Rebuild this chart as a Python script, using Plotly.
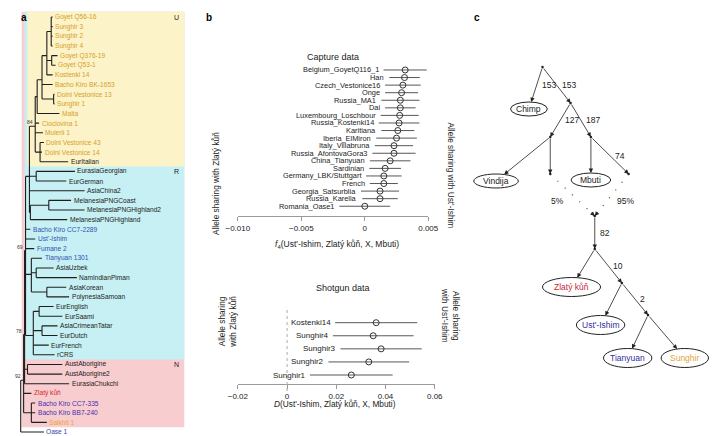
import math
import plotly.graph_objects as go

W, H = 720, 436
FONT = "Liberation Sans, Arial, Helvetica, sans-serif"
INK = "#222222"


def pxx(x):
    return x / W


def pyy(y):
    return 1 - y / H


# ======================= Panel a data =======================
# Tree: internal node = (support label, branch length, children); leaf = (name, branch length)
TREE = ("", 0, [
    ("92", 3, [
        ("78", 1, [
            ("69", 1, [
                ("", 4, [
                    ("84", 6, [
                        ("", 2, [
                            ("", 5, [
                                ("", 5, [
                                    ("", 4.5, [("Goyet Q56-16", 1.5), ("Sunghir 3", 1.5),
                                               ("Sunghir 2", 1.5), ("Sunghir 4", 1.5)]),
                                    ("", 5, [("Goyet Q376-19", 6), ("Goyet Q53-1", 4)]),
                                    ("Kostenki 14", 6),
                                ]),
                                ("Bacho Kiro BK-1653", 11),
                                ("", 12, [("Dolni Vestonice 13", 1), ("Sunghir 1", 1)]),
                            ]),
                            ("Malta", 23),
                        ]),
                        ("Cioclovina 1", 4),
                        ("Muierii 1", 8),
                        ("", 5, [("Dolni Vestonice 43", 4), ("Dolni Vestonice 14", 2),
                                 ("EurItalian", 29)]),
                    ]),
                    ("", 7, [("EurasiaGeorgian", 40), ("EurGerman", 31)]),
                    ("AsiaChina2", 57),
                    ("", 1, [
                        ("", 19, [("MelanesiaPNGCoast", 23), ("MelanesiaPNGHighland2", 37)]),
                        ("MelanesiaPNGHighland", 38),
                    ]),
                ]),
                ("Bacho Kiro CC7-2289", 5),
                ("Ust'-Ishim", 10),
                ("Fumane 2", 9),
                ("", 6, [
                    ("Tianyuan 1301", 11),
                    ("", 5, [("AsiaUzbek", 18), ("NamIndianPiman", 42)]),
                    ("", 16, [("AsiaKorean", 20), ("PolynesiaSamoan", 23)]),
                ]),
                ("", 8, [
                    ("", 6, [("EurEnglish", 15), ("EurSaami", 24)]),
                    ("", 9, [("AsiaCrimeanTatar", 16), ("EurDutch", 16)]),
                    ("EurFrench", 16),
                    ("rCRS", 22),
                ]),
            ]),
            ("", 3, [("AustAborigine", 36), ("AustAborigine2", 36)]),
            ("EurasiaChukchi", 46),
        ]),
        ("Zlatý kůň", 8),
        ("", 8, [("Bacho Kiro CC7-335", 4), ("Bacho Kiro BB7-240", 4), ("Salkhit 1", 16)]),
    ]),
    ("Oase 1", 24),
])

U_ORANGE = "#d6a02a"
ANCIENT_BLUE = "#3352b3"
LEAF_COLORS = {
    **{n: U_ORANGE for n in ["Goyet Q56-16", "Sunghir 3", "Sunghir 2", "Sunghir 4", "Goyet Q376-19",
                             "Goyet Q53-1", "Kostenki 14", "Bacho Kiro BK-1653", "Dolni Vestonice 13",
                             "Sunghir 1", "Malta", "Cioclovina 1", "Muierii 1", "Dolni Vestonice 43",
                             "Dolni Vestonice 14"]},
    **{n: ANCIENT_BLUE for n in ["Bacho Kiro CC7-2289", "Ust'-Ishim", "Fumane 2", "Tianyuan 1301"]},
    "Zlatý kůň": "#d22b2b",
    "Bacho Kiro CC7-335": "#4a2fae",
    "Bacho Kiro BB7-240": "#4a2fae",
    "Salkhit 1": "#f0a03a",
    "Oase 1": "#3545b5",
}

# haplogroup boxes: (letter, first leaf row, last leaf row, left x, colour)
HAPLO_BOXES = [
    ("N", 0, 42, 10, "#f7cdd0"),
    ("R", 0, 35, 13, "#c6f0f3"),
    ("U", 0, 15, 16, "#fcf3c8"),
]
HAPLO_LETTER_ROWS = {"U": 0, "R": 16, "N": 36}

ROOT_X = 9
ROW0_PX, ROW_STEP = 17.0, 9.651

# ======================= Panel b data =======================
cap_labels = ["Belgium_GoyetQ116_1", "Han", "Czech_Vestonice16", "Onge", "Russia_MA1", "Dai",
              "Luxembourg_Loschbour", "Russia_Kostenki14", "Karitiana", "Iberia_ElMiron",
              "Italy_Villabruna", "Russia_AfontovaGora3", "China_Tianyuan", "Sardinian",
              "Germany_LBK/Stuttgart", "French", "Georgia_Satsurblia", "Russia_Karelia",
              "Romania_Oase1"]
cap_vals = [0.00318, 0.00313, 0.0030, 0.0029, 0.0028, 0.0028, 0.00275, 0.0027, 0.0026, 0.0025,
            0.0023, 0.0023, 0.0020, 0.0016, 0.0015, 0.0015, 0.0012, 0.0012, 0.0000]
cap_errs = [0.0017, 0.0012, 0.0014, 0.0013, 0.0015, 0.0012, 0.0015, 0.0016, 0.0013, 0.0016,
            0.0015, 0.0017, 0.0016, 0.00125, 0.0014, 0.0011, 0.0015, 0.0014, 0.0020]
cap_ticks = [-0.010, -0.005, 0, 0.005]
cap_ticktext = ["\u22120.010", "\u22120.005", "0", "0.005"]

shot_labels = ["Kostenki14", "Sunghir4", "Sunghir3", "Sunghir2", "Sunghir1"]
shot_vals = [0.0362, 0.0350, 0.0382, 0.0332, 0.0261]
shot_errs = [0.0167, 0.0164, 0.0165, 0.0164, 0.0168]
shot_ticks = [-0.02, 0, 0.02, 0.04, 0.06]
shot_ticktext = ["\u22120.02", "0", "0.02", "0.04", "0.06"]

# ======================= Panel c data =======================
C_EDGES = [("root", "Chimp", "153"), ("root", "B", "153"), ("B", "C", "127"), ("B", "D", "187"),
           ("C", "Vindija", ""), ("C", "E", ""), ("D", "Mbuti", ""), ("D", "F", "74"),
           ("G", "H", "82"), ("H", "Zlatý kůň", ""), ("H", "I", "10"), ("I", "Ust'-Ishim", ""),
           ("I", "J", "2"), ("J", "Tianyuan", ""), ("J", "Sunghir", "")]
C_ADMIX = [("E", "G", "5%"), ("F", "G", "95%")]
C_LEAF_COLORS = {"Chimp": INK, "Vindija": INK, "Mbuti": INK, "Zlatý kůň": "#c8283a",
                 "Ust'-Ishim": "#33309e", "Tianyuan": "#33309e", "Sunghir": "#e0a63a"}

# layout of panel c (pixel positions / oval sizes)
C_POS = {"root": (548, 67), "B": (577, 103), "C": (556, 137), "D": (598, 137),
         "E": (556, 174), "F": (637, 174), "G": (602, 216), "H": (602, 249),
         "I": (630, 283), "J": (657, 315),
         "Chimp": (534, 109), "Vindija": (500, 181), "Mbuti": (598, 180),
         "Zlatý kůň": (578, 287), "Ust'-Ishim": (608, 325), "Tianyuan": (636, 358),
         "Sunghir": (695, 358)}
C_OVAL = {"Chimp": (38, 14), "Vindija": (46, 14), "Mbuti": (41, 14), "Zlatý kůň": (60, 19),
          "Ust'-Ishim": (50, 19), "Tianyuan": (50, 19), "Sunghir": (49, 19)}

# ======================= build =======================
fig = go.Figure()
annotations = []
shapes = []

# ---------- panel a: tree layout ----------
seg_x, seg_y = [], []
leaves, supports = [], []
counter = [0]


def layout(node, x0):
    if len(node) == 2:
        name, bl = node
        x = x0 + bl
        y = counter[0]
        counter[0] += 1
        leaves.append((name, x, y))
        seg_x.extend([x0, x, None])
        seg_y.extend([y, y, None])
        return y
    label, bl, kids = node
    x = x0 + bl
    ys = [layout(k, x) for k in kids]
    y = sum(ys) / len(ys)
    seg_x.extend([x, x, None])
    seg_y.extend([min(ys), max(ys), None])
    if bl:
        seg_x.extend([x0, x, None])
        seg_y.extend([y, y, None])
    if label:
        supports.append((label, x, y))
    return y


layout(TREE, ROOT_X)
y_top = -ROW0_PX / ROW_STEP
y_bot = (H - ROW0_PX) / ROW_STEP

for letter, r0, r1, x_left, col in HAPLO_BOXES:
    shapes.append(dict(type="rect", xref="x", yref="y", x0=x_left, x1=178,
                       y0=r0 - 0.55, y1=r1 + 0.5, fillcolor=col, line=dict(width=0), layer="below"))
    annotations.append(dict(x=170, y=HAPLO_LETTER_ROWS[letter], xref="x", yref="y", text=letter,
                            showarrow=False, xanchor="center", font=dict(size=7, color=INK)))

fig.add_trace(go.Scatter(x=seg_x, y=seg_y, mode="lines", xaxis="x", yaxis="y",
                         line=dict(color="#1e1e1e", width=1.1), hoverinfo="skip", showlegend=False))

for name, x, y in leaves:
    annotations.append(dict(x=x, y=y, xref="x", yref="y", text=name, showarrow=False,
                            xanchor="left", xshift=0.5,
                            font=dict(size=6.6, color=LEAF_COLORS.get(name, INK))))
for label, x, y in supports:
    annotations.append(dict(x=x, y=y, xref="x", yref="y", text=label, showarrow=False,
                            xanchor="right", yanchor="bottom", xshift=-0.5, yshift=-1,
                            font=dict(size=5, color="#333")))

# ---------- panel b ----------
marker = dict(symbol="circle-open", size=6, color="#333", line=dict(width=1, color="#333"))
fig.add_trace(go.Scatter(x=cap_vals, y=list(range(len(cap_vals))), mode="markers",
                         xaxis="x2", yaxis="y2", marker=marker, showlegend=False,
                         error_x=dict(type="data", array=cap_errs, thickness=0.9, width=0,
                                      color="#444")))
for i, (lab, v, e) in enumerate(zip(cap_labels, cap_vals, cap_errs)):
    annotations.append(dict(x=v - e, y=i, xref="x2", yref="y2", text=lab, showarrow=False,
                            xanchor="right", xshift=-3, font=dict(size=7.4, color=INK)))

fig.add_trace(go.Scatter(x=shot_vals, y=list(range(len(shot_vals))), mode="markers",
                         xaxis="x3", yaxis="y3", marker=marker, showlegend=False,
                         error_x=dict(type="data", array=shot_errs, thickness=0.9, width=0,
                                      color="#444")))
for i, (lab, v, e) in enumerate(zip(shot_labels, shot_vals, shot_errs)):
    annotations.append(dict(x=v - e, y=i, xref="x3", yref="y3", text=lab, showarrow=False,
                            xanchor="right", xshift=-2, font=dict(size=8, color=INK)))

shapes.append(dict(type="line", xref="x3", yref="paper", x0=0, x1=0, y0=pyy(391), y1=pyy(309),
                   line=dict(color="#aaaaaa", width=1, dash="dot")))

txt = dict(showarrow=False, xref="paper", yref="paper")
annotations += [
    dict(x=pxx(332), y=pyy(50), text="Capture data", font=dict(size=9, color=INK), **txt),
    dict(x=pxx(342), y=pyy(295), text="Shotgun data", font=dict(size=9, color=INK), **txt),
    dict(x=pxx(336), y=pyy(244), text="<i>f</i><sub>4</sub>(Ust'-Ishim, Zlatý kůň, X, Mbuti)",
         font=dict(size=8.5, color=INK), **txt),
    dict(x=pxx(334), y=pyy(411), text="<i>D</i>(Ust'-Ishim, Zlatý kůň, X, Mbuti)",
         font=dict(size=8.3, color=INK), **txt),
    dict(x=pxx(203), y=pyy(130), text="Allele sharing with Zlatý kůň", textangle=-90,
         font=dict(size=8.3, color=INK), **txt),
    dict(x=pxx(453), y=pyy(120), text="Allele sharing with Ust'-Ishim", textangle=90,
         font=dict(size=8.3, color=INK), **txt),
    dict(x=pxx(209), y=pyy(350), text="Allele sharing<br>with Zlatý kůň", textangle=-90,
         font=dict(size=8.3, color=INK), **txt),
    dict(x=pxx(453), y=pyy(345), text="Allele sharing<br>with Ust'-Ishim", textangle=90,
         font=dict(size=8.3, color=INK), **txt),
    dict(x=pxx(7), y=pyy(10), text="<b>a</b>", font=dict(size=10, color="#000"), **txt),
    dict(x=pxx(198), y=pyy(10), text="<b>b</b>", font=dict(size=10, color="#000"), **txt),
    dict(x=pxx(480), y=pyy(10), text="<b>c</b>", font=dict(size=10, color="#000"), **txt),
]

# ---------- panel c ----------
def edge_end(src, dst):
    sx, sy = C_POS[src]
    tx, ty = C_POS[dst]
    if dst in C_OVAL:
        a, b = C_OVAL[dst][0] / 2, C_OVAL[dst][1] / 2
        vx, vy = sx - tx, sy - ty
        s = 1 / math.sqrt((vx / a) ** 2 + (vy / b) ** 2)
        return tx + vx * s, ty + vy * s
    return tx, ty


for name, (w, h) in C_OVAL.items():
    cx, cy = C_POS[name]
    shapes.append(dict(type="circle", xref="x4", yref="y4", x0=cx - w / 2, x1=cx + w / 2,
                       y0=cy - h / 2, y1=cy + h / 2, line=dict(color=INK, width=1),
                       fillcolor="white"))
    annotations.append(dict(x=cx, y=cy, xref="x4", yref="y4", text=name, showarrow=False,
                            font=dict(size=8.5, color=C_LEAF_COLORS[name])))

for src, dst, lab in C_EDGES:
    sx, sy = C_POS[src]
    ex, ey = edge_end(src, dst)
    annotations.append(dict(x=ex, y=ey, ax=sx, ay=sy, xref="x4", yref="y4", axref="x4",
                            ayref="y4", text="", showarrow=True, arrowhead=2, arrowsize=1.1,
                            arrowwidth=0.8, arrowcolor=INK, standoff=0))
    if lab:
        annotations.append(dict(x=(sx + ex) / 2, y=(sy + ey) / 2, xref="x4", yref="y4",
                                text=lab, showarrow=False, xanchor="left", xshift=3,
                                font=dict(size=8.5, color=INK)))

for src, dst, lab in C_ADMIX:
    sx, sy = C_POS[src]
    tx, ty = C_POS[dst]
    fig.add_trace(go.Scatter(x=[sx, tx], y=[sy, ty], mode="lines", xaxis="x4", yaxis="y4",
                             line=dict(color="#555", width=1.3, dash="1px,9px"),
                             hoverinfo="skip", showlegend=False))
    L = math.hypot(tx - sx, ty - sy)
    annotations.append(dict(x=tx, y=ty, ax=tx - (tx - sx) / L * 7, ay=ty - (ty - sy) / L * 7,
                            xref="x4", yref="y4", axref="x4", ayref="y4", text="",
                            showarrow=True, arrowhead=2, arrowsize=1.1, arrowwidth=0.8,
                            arrowcolor=INK, standoff=0))
    left = sx < tx
    annotations.append(dict(x=(sx + tx) / 2, y=(sy + ty) / 2, xref="x4", yref="y4", text=lab,
                            showarrow=False, xanchor="right" if left else "left",
                            xshift=-7 if left else 3, yshift=-6,
                            font=dict(size=8.5, color=INK)))

dot_nodes = [n for n in C_POS if n not in C_OVAL]
fig.add_trace(go.Scatter(x=[C_POS[n][0] for n in dot_nodes], y=[C_POS[n][1] for n in dot_nodes],
                         mode="markers", xaxis="x4", yaxis="y4",
                         marker=dict(size=2.5, color=INK), hoverinfo="skip", showlegend=False))

# ---------- axes ----------
hidden = dict(visible=False, showgrid=False, zeroline=False)
data_axis = dict(showline=True, linecolor="#9a9a9a", linewidth=1, ticks="outside", ticklen=4,
                 tickcolor="#9a9a9a", tickwidth=1, showgrid=False, zeroline=False,
                 tickfont=dict(size=8, color=INK))

fig.update_layout(
    width=W, height=H, margin=dict(l=0, r=0, t=0, b=0),
    paper_bgcolor="white", plot_bgcolor="rgba(0,0,0,0)",
    font=dict(family=FONT, color=INK),
    showlegend=False,
    xaxis=dict(domain=[0, 180 / W], range=[0, 180], **hidden),
    yaxis=dict(domain=[0, 1], range=[y_bot, y_top], **hidden),
    xaxis2=dict(domain=[233.3 / W, 430 / W], range=[-0.010, 0.005], anchor="y2",
                tickvals=cap_ticks, ticktext=cap_ticktext, **data_axis),
    yaxis2=dict(domain=[pyy(216), pyy(64)], range=[19.29, -0.79], anchor="x2", **hidden),
    xaxis3=dict(domain=[233.3 / W, 436.7 / W], range=[-0.02, 0.06], anchor="y3",
                tickvals=shot_ticks, ticktext=shot_ticktext, **data_axis),
    yaxis3=dict(domain=[pyy(384.3), pyy(310)], range=[4.71, -0.97], anchor="x3", **hidden),
    xaxis4=dict(domain=[470 / W, 1], range=[470, 720], anchor="y4", **hidden),
    yaxis4=dict(domain=[0, 1], range=[H, 0], anchor="x4", **hidden),
    annotations=annotations,
    shapes=shapes,
)

fig.write_html("out.html", config={"displayModeBar": False},
               post_script="document.body.style.margin='0';document.body.style.padding='0';"
                           "document.body.style.overflow='hidden';")
